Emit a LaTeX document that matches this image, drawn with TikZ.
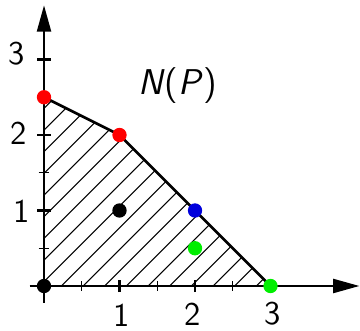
\documentclass[tikz,border=0pt]{standalone}
\usetikzlibrary{arrows.meta}
\definecolor{dotred}{RGB}{255,0,0}
\definecolor{dotblue}{RGB}{0,0,220}
\definecolor{dotgreen}{RGB}{0,238,0}
\begin{document}
\begin{tikzpicture}[x=1cm,y=1cm,
  axis/.style={line width=1.1pt,-{Triangle[length=10pt,width=5.2pt]}},
  majortick/.style={line width=1pt},
  minortick/.style={line width=0.5pt},
  hatch/.style={line width=0.4pt},
  border/.style={line width=1pt,line join=round},
  dot/.style={circle,inner sep=0pt,minimum size=0.19cm,draw=none},
  lab/.style={font=\sffamily\fontsize{12.5}{14}\selectfont,inner sep=0pt}]
\useasboundingbox (-0.583,-0.583) rectangle (4.185,3.788);
\coordinate (O) at (0,0);
\coordinate (A) at (0,2.5);
\coordinate (B) at (1,2);
\coordinate (C) at (2,1);
\coordinate (D) at (3,0);
\coordinate (I1) at (1,1);
\coordinate (I2) at (2,0.5);
% hatching
\begin{scope}
  \clip (O) -- (A) -- (B) -- (C) -- (D) -- cycle;
  \foreach \k in {-12,...,10}
    \draw[hatch] (-1,{-1+0.057+0.287*\k}) -- ++(5,5);
\end{scope}
\draw[border] (A) -- (B) -- (C) -- (D);
% axes
\coordinate (xs) at (-0.19,0);
\coordinate (xe) at (4.18,0);
\coordinate (ys) at (0,-0.225);
\coordinate (ye) at (0,3.72);
\draw[axis] (xs) -- (xe);
\draw[axis] (ys) -- (ye);
% ticks
\foreach \t in {1,2,3} {
  \draw[majortick] (\t,-0.08) -- (\t,0.08);
  \draw[majortick] (-0.09,\t) -- (0.09,\t);
}
\foreach \t in {0.5,1.5,2.5} {
  \draw[minortick] (\t,-0.06) -- (\t,0.06);
  \draw[minortick] (-0.07,\t) -- (0.07,\t);
}
% tick labels
\node[lab] (lx1) at (1.03,-0.39) {1};
\node[lab] (lx2) at (1.97,-0.37) {2};
\node[lab] (lx3) at (3.03,-0.37) {3};
\node[lab] (ly1) at (-0.29,0.985) {1};
\node[lab] (ly2) at (-0.34,2.02) {2};
\node[lab] (ly3) at (-0.36,3.08) {3};
% title
\node[font=\sffamily\fontsize{13.5}{16}\selectfont,inner sep=0pt] (np) at (1.77,2.65) {\textit{N}(\textit{P})};
% dots
\node[dot,fill=black] (pO) at (O) {};
\node[dot,fill=dotred] (pA) at (A) {};
\node[dot,fill=dotred] (pB) at (B) {};
\node[dot,fill=dotblue] (pC) at (C) {};
\node[dot,fill=dotgreen] (pD) at (D) {};
\node[dot,fill=black] (pI1) at (I1) {};
\node[dot,fill=dotgreen] (pI2) at (I2) {};
\end{tikzpicture}
\end{document}
